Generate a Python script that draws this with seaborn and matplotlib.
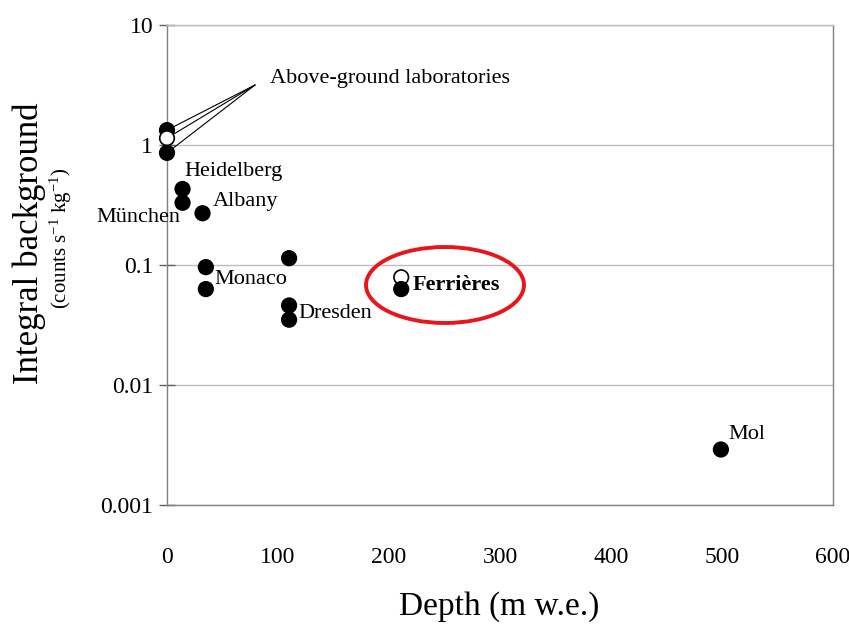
import matplotlib
matplotlib.use("Agg")
import matplotlib.pyplot as plt
import seaborn as sns
import pandas as pd
from matplotlib.patches import Ellipse
from matplotlib.ticker import FixedLocator, FixedFormatter, NullLocator

# Data
depth = [0, 0, 0, 14, 14, 32, 35, 35, 110, 110, 110, 211, 211, 499]
background = [1.33, 1.14, 0.86, 0.43, 0.33, 0.27, 0.096, 0.063, 0.114, 0.046, 0.035, 0.079, 0.063, 0.0029]
kind = ["filled", "open", "filled", "filled", "filled", "filled", "filled", "filled",
        "filled", "filled", "filled", "open", "filled", "filled"]
labels = ["", "", "", "Heidelberg", "München", "Albany", "Monaco", "", "", "Dresden", "", "", "Ferrières", "Mol"]
x_ticks = [0, 100, 200, 300, 400, 500, 600]
y_ticks = [0.001, 0.01, 0.1, 1, 10]
y_tick_labels = ["0.001", "0.01", "0.1", "1", "10"]

df = pd.DataFrame({"depth": depth, "bg": background, "kind": kind, "label": labels})

sns.set_style("white")
plt.rcParams["font.family"] = ["Liberation Serif", "DejaVu Serif"]
plt.rcParams["mathtext.default"] = "regular"
plt.rcParams["text.color"] = "black"
plt.rcParams["xtick.color"] = "black"
plt.rcParams["ytick.color"] = "black"

fig = plt.figure(figsize=(8.49, 6.35), dpi=100)
ax = fig.add_axes([167/849, 1-505/635, (833-167)/849, (505-25)/635])
ax.set_yscale("log")

# leader lines for above-ground labs
for i in range(3):
    ax.annotate("", xy=(depth[i], background[i]), xycoords="data",
                xytext=(255, 635-85), textcoords="figure pixels",
                arrowprops=dict(arrowstyle="-", color="black", lw=0.8,
                                shrinkA=0, shrinkB=5))

sns.scatterplot(data=df, x="depth", y="bg", hue="kind",
                palette={"filled": "black", "open": "white"},
                edgecolor="black", linewidth=1.2, s=110, legend=False,
                ax=ax, zorder=5, clip_on=False)

ax.set_xlim(0, 600)
ax.set_ylim(0.001, 10)
ax.xaxis.set_major_locator(FixedLocator(x_ticks))
ax.yaxis.set_major_locator(FixedLocator(y_ticks))
ax.yaxis.set_major_formatter(FixedFormatter(y_tick_labels))
ax.yaxis.set_minor_locator(NullLocator())
ax.grid(axis="y", color="#bdbdbd", lw=1)
ax.grid(axis="x", visible=False)
for s in ax.spines.values():
    s.set_color("#808080")
    s.set_linewidth(1)
ax.spines["top"].set_color("#bdbdbd")
ax.tick_params(axis="x", direction="inout", length=8, width=1, color="#606060",
               pad=26, labelsize=17, labelcolor="black")
ax.tick_params(axis="y", direction="inout", length=12, width=1, color="#606060",
               pad=4, labelsize=17, left=True, labelcolor="black")
ax.set_xlabel("")
ax.set_ylabel("")

# Point labels (offsets in pixels)
offsets = {
    "Heidelberg": (2, 17, "left", {}),
    "München": (-2, -15, "right", {}),
    "Albany": (10, 12, "left", {}),
    "Monaco": (9, -12, "left", {}),
    "Dresden": (9, -8, "left", {}),
    "Ferrières": (11, 4, "left", {"fontweight": "bold"}),
    "Mol": (7, 15, "left", {}),
}
for d, b, lab in zip(depth, background, labels):
    if lab:
        dx, dy, ha, extra = offsets[lab]
        ax.annotate(lab, xy=(d, b), xytext=(dx, dy), textcoords="offset pixels",
                    ha=ha, va="center", fontsize=16, color="black", **extra)

fig.text(270/849, 1-78/635, "Above-ground laboratories", fontsize=16,
         ha="left", va="center", color="black")

# red ellipse
ell = Ellipse(((445-167)/666, (505-285)/480), 158/666, 76/480,
              transform=ax.transAxes, fill=False, edgecolor="#e8161b", lw=2.8,
              zorder=6)
ax.add_patch(ell)

fig.text(29/849, 1-243/635, "Integral background", rotation=90, fontsize=25,
         ha="center", va="center", color="black")
fig.text(61/849, 1-238/635, "(counts s$^{-1}$ kg$^{-1}$)", rotation=90, fontsize=15,
         ha="center", va="center", color="black")
fig.text(499/849, 1-607/635, "Depth (m w.e.)", fontsize=24, ha="center", va="center",
         color="black")

fig.savefig("out.png", dpi=100)
